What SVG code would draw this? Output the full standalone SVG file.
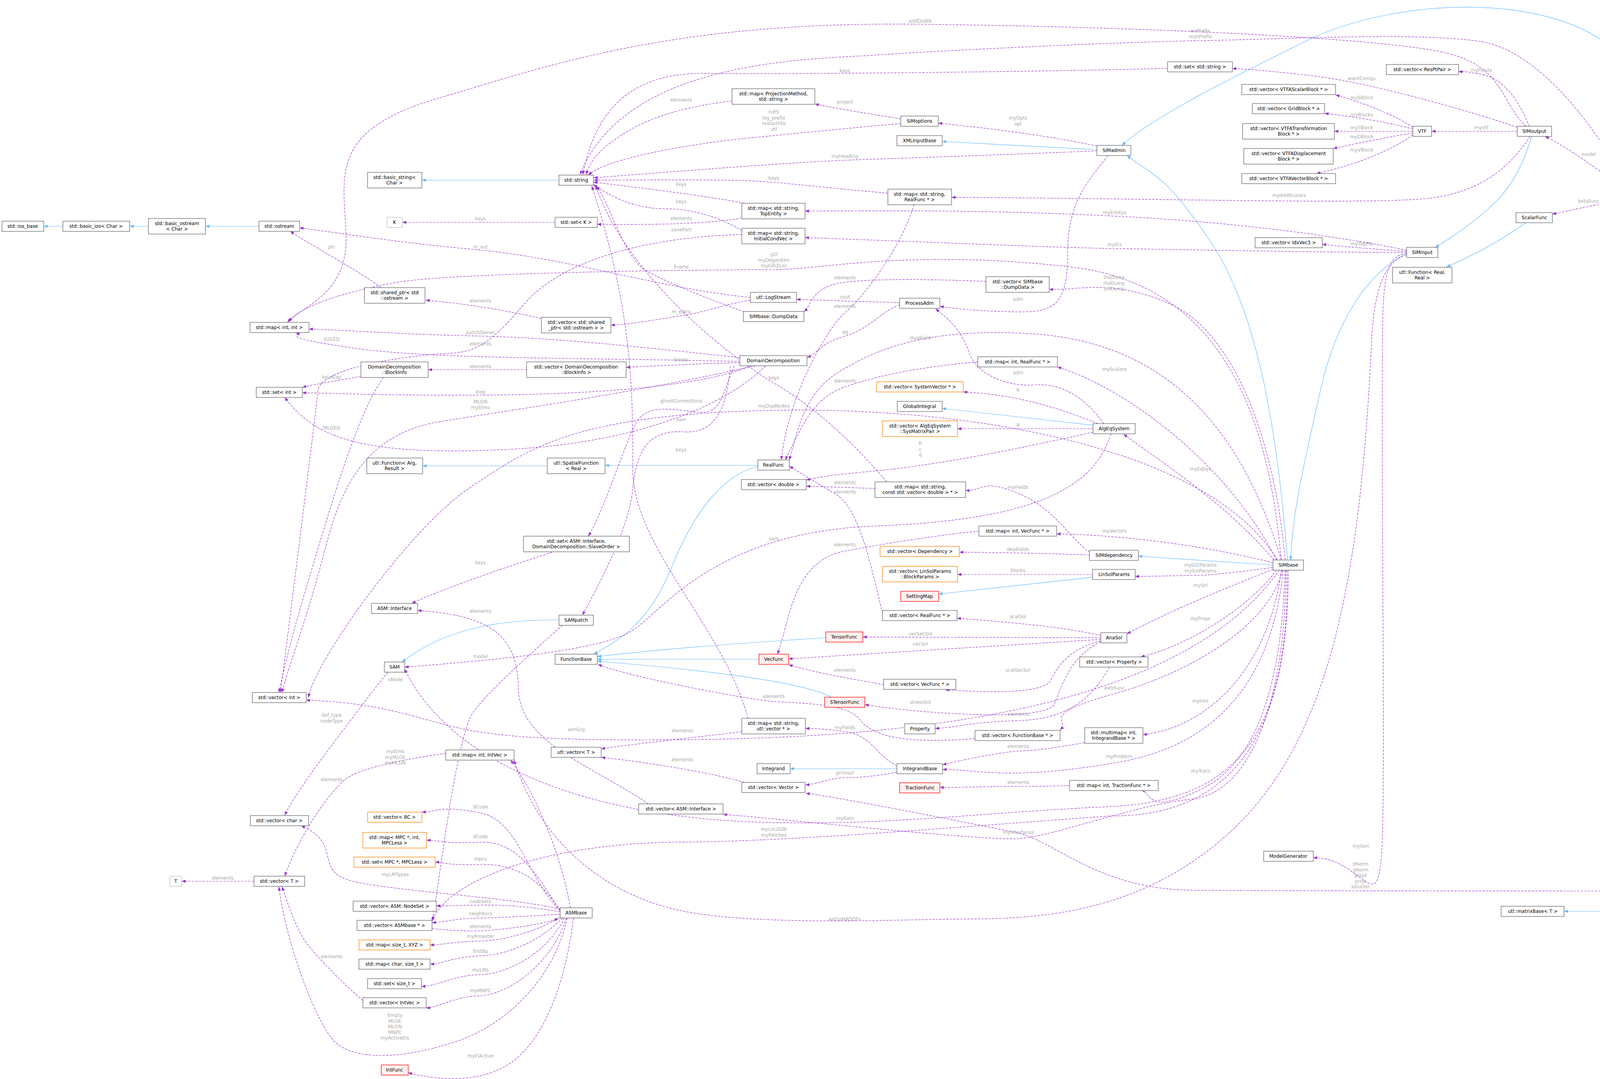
<svg xmlns="http://www.w3.org/2000/svg" width="4472" height="2761" viewBox="0 0 4472 2761">
<defs>
<marker id="ap" markerUnits="userSpaceOnUse" markerWidth="11" markerHeight="8" refX="10" refY="4" orient="auto"><path d="M0,0 L10,4 L0,8 z" fill="#9a32cd"/></marker>
<marker id="ab" markerUnits="userSpaceOnUse" markerWidth="11" markerHeight="8" refX="10" refY="4" orient="auto"><path d="M0,0 L10,4 L0,8 z" fill="#63b8ff"/></marker>
</defs>
<style>
.node rect{fill:#fff;stroke:#666;stroke-width:1.3}
.node text{font-family:"DejaVu Sans",sans-serif;font-size:12px;fill:#000;text-anchor:middle}
.node.red rect{fill:#fff0f0;stroke:#ff0000}
.node.org rect{stroke:#ff7f00}
.node.lt rect{stroke:#bfbfbf}
.node.main rect{fill:#999;stroke:#666}
.c path{fill:none;stroke:#9a32cd;stroke-width:1.2;stroke-dasharray:6,3;marker-end:url(#ap)}
.c path.inh{stroke:#63b8ff;stroke-dasharray:none;marker-end:url(#ab)}
.c text{font-family:"DejaVu Sans",sans-serif;font-size:12px;fill:#a8a8a8;text-anchor:middle}
</style>
<rect width="4472" height="2761" fill="#fff"/>
<g id="connectors" class="c">
<path class="inh" d="M161,579 L112,579"/>
<path class="inh" d="M380,579 L332,579"/>
<path class="inh" d="M663,579 L526,579"/>
<path class="inh" d="M1431,461 L1080,461"/>
<path class="inh" d="M2808,383 L2412,362"/>
<path class="inh" d="M3296,1433 C3270,1100 3220,800 3100,620 S2950,450 2885,398"/>
<path class="inh" d="M3601,648 C3500,700 3420,820 3380,1000 S3310,1300 3304,1433"/>
<path class="inh" d="M3921,349 C3900,420 3870,480 3817,528 S3720,605 3674,633"/>
<path class="inh" d="M3906,570 C3850,610 3780,650 3703,683"/>
<path class="inh" d="M4417,1303 L4203,514"/>
<path class="inh" d="M4419,1303 C4380,850 4300,250 4110,110 C3950,-10 3600,-10 3360,97 C3150,200 2950,300 2872,372"/>
<path class="inh" d="M3259,1446 L2914,1423"/>
<path class="inh" d="M2798,1088 L2412,1045"/>
<path class="inh" d="M2797,1477 L2403,1520"/>
<path class="inh" d="M1401,1192 L1082,1192"/>
<path class="inh" d="M1940,1191 L1549,1191"/>
<path class="inh" d="M1940,1194 C1860,1210 1780,1300 1720,1450 S1580,1640 1520,1674"/>
<path class="inh" d="M2114,1632 C1900,1645 1700,1660 1529,1680"/>
<path class="inh" d="M1943,1687 L1529,1687"/>
<path class="inh" d="M2127,1784 C2050,1740 1750,1710 1529,1692"/>
<path class="inh" d="M1431,1586 C1300,1586 1150,1600 1029,1694"/>
<path class="inh" d="M2296,1967 L2023,1967"/>
<path class="inh" d="M4116,2332 L4004,2332"/>

<path d="M1921,761 C1700,740 1450,660 1230,640 S900,600 767,583"/><text x="1230" y="636">m_out</text>
<path d="M975,736 C930,700 800,630 743,592"/><text x="849" y="636">ptr</text>
<path d="M1386,815 C1300,795 1200,778 1090,768"/><text x="1230" y="774">elements</text>
<path d="M1921,768 C1850,780 1800,800 1744,808 S1620,830 1564,832"/><text x="1744" y="802">m_extra</text>
<path d="M1421,569 L1030,569"/><text x="1230" y="564">keys</text>
<path d="M1899,558 C1800,575 1650,575 1529,574"/><text x="1744" y="563">elements</text>
<path d="M1906,520 C1800,500 1650,482 1519,466"/><text x="1744" y="476">keys</text>
<path d="M1899,590 C1850,560 1780,534 1700,534 S1560,500 1519,472"/><text x="1744" y="520">keys</text>
<path d="M1874,258 C1780,270 1680,290 1600,340 S1510,420 1500,447"/><text x="1744" y="260">elements</text>
<path d="M2306,316 C2150,330 2000,345 1900,355 S1560,400 1506,448"/><text x="1981" y="291">hdf5<tspan x="1981" dy="14.5">log_prefix</tspan><tspan x="1981" dy="14.5">restartFile</tspan><tspan x="1981" dy="14.5">vtf</tspan></text>
<path d="M2808,386 C2600,395 2300,405 2163,410 S1650,445 1520,455"/><text x="2163" y="404">myHeading</text>
<path d="M2273,494 C2150,485 2000,465 1900,462 S1600,461 1520,461"/><text x="1981" y="460">keys</text>
<path d="M2988,175 C2600,185 2000,190 1800,188 S1520,300 1492,447"/><text x="2163" y="185">keys</text>
<path d="M4174,488 C4100,350 3950,130 3789,106 S3300,100 3073,104 S2400,130 2240,141 S1600,150 1485,447"/><text x="3073" y="83">errPrefix<tspan x="3073" dy="14.5">mshPrefix</tspan></text>
<path d="M3906,323 C3840,260 3850,170 3700,135 S3000,70 2356,62 S1400,170 1120,252 S880,450 886,600 S780,780 736,824"/><text x="2356" y="58">addDisBlk</text>
<path d="M3280,1433 C3250,1100 3150,730 2740,683 S2100,690 1981,690 S1150,695 1000,725 S760,790 740,824"/><text x="1981" y="655">g2l<tspan x="1981" dy="14.5">myDegenElm</tspan><tspan x="1981" dy="14.5">myGlb2Loc</tspan></text>
<path d="M1895,915 C1700,895 1450,865 1230,860 S900,845 791,842"/><text x="1230" y="855">patchOwner</text>
<path d="M1895,925 C1500,915 1100,920 900,890 S780,860 757,852"/><text x="849" y="872">G2LEQ</text>
<path d="M924,963 C880,972 820,980 774,991"/><text x="849" y="969">localEqs</text>
<path d="M1348,946 L1096,946"/><text x="1230" y="942">elements</text>
<path d="M1895,928 C1800,930 1700,935 1603,940"/><text x="1744" y="925">blocks</text>
<path d="M982,966 C920,1050 860,1250 800,1450 S730,1700 714,1772"/>
<path d="M1920,936 C1800,990 1500,1010 1230,1011 S900,1007 774,1005"/><text x="1230" y="1007">step</text>
<path d="M1960,936 C1900,1000 1700,1130 1300,1150 S800,1110 729,1017"/><text x="849" y="1099">MLGEQ</text>
<path d="M1935,936 C1600,1010 1300,1050 1120,1080 C900,1120 860,1300 820,1450 C780,1600 740,1700 722,1772"/><text x="1230" y="1032">MLGN<tspan x="1230" dy="14.5">myElms</tspan></text>
<path d="M1880,936 C1850,1000 1850,1060 1790,1055 S1660,1030 1630,1080 S1550,1300 1506,1372"/><text x="1744" y="1030">ghostConnections</text>
<path d="M1870,936 C1860,1050 1830,1110 1750,1105 S1630,1140 1620,1250 S1520,1520 1491,1574"/><text x="1744" y="1078">sam</text>
<path d="M1413,1413 C1300,1450 1150,1500 1054,1544"/><text x="1230" y="1444">keys</text>
<path d="M1660,2057 C1500,1950 1330,1900 1327,1760 S1250,1575 1069,1562"/><text x="1230" y="1568">elements</text>
<path d="M2844,1110 C2800,1250 2650,1330 2240,1346 S1700,1560 1620,1613 S1250,1690 1036,1707"/><text x="1981" y="1383">sam</text>
<path d="M1440,1600 C1350,1680 1260,1760 1213,1820 S1120,2300 1106,2358"/><text x="1230" y="1684">model</text>
<path d="M993,1720 C960,1760 930,1800 900,1840 S760,2020 729,2086"/><text x="1012" y="1743">xNode</text><text x="849" y="1834">dof_type<tspan x="849" dy="14.5">nodeType</tspan></text>
<path d="M1434,2326 C1300,2295 1000,2280 900,2254 S880,2160 771,2113"/><text x="1012" y="2242">myLMTypes</text>
<path d="M1434,2330 C1350,2250 1330,2100 1229,2080 S1120,2077 1080,2078"/><text x="1230" y="2069">BCode</text>
<path d="M1434,2330 C1380,2250 1330,2150 1229,2155 S1130,2150 1092,2150"/><text x="1230" y="2145">dCode</text>
<path d="M1434,2331 C1390,2260 1330,2210 1229,2212 S1140,2206 1114,2206"/><text x="1230" y="2202">mpcs</text>
<path d="M1434,2333 C1350,2320 1300,2315 1229,2316 S1150,2318 1117,2318"/><text x="1230" y="2311">nodeSets</text>
<path d="M1434,2339 C1350,2345 1300,2347 1229,2349 S1150,2358 1106,2361"/><text x="1230" y="2342">neighbors</text>
<path d="M1106,2376 C1150,2381 1200,2383 1229,2382 S1380,2370 1430,2350"/><text x="1230" y="2375">elements</text>
<path d="M1436,2346 C1380,2380 1300,2406 1229,2408 S1130,2418 1101,2418"/><text x="1230" y="2400">myRmaster</text>
<path d="M1440,2349 C1380,2410 1300,2443 1229,2446 S1130,2467 1101,2467"/><text x="1230" y="2438">firstBp</text>
<path d="M1445,2349 C1400,2440 1300,2492 1229,2494 S1120,2524 1079,2524"/><text x="1230" y="2486">myLMs</text>
<path d="M1450,2349 C1410,2470 1300,2545 1229,2548 S1120,2579 1091,2579"/><text x="1230" y="2539">myMNPC</text>
<path d="M929,2560 C870,2510 820,2456 790,2420 S740,2320 722,2269"/><text x="849" y="2452">elements</text>
<path d="M1452,2349 C1420,2500 1300,2620 1171,2664 S900,2720 850,2658 S730,2400 714,2269"/><text x="1011" y="2602">Empty<tspan x="1011" dy="14.5">MLGE</tspan><tspan x="1011" dy="14.5">MLGN</tspan><tspan x="1011" dy="14.5">MNPC</tspan><tspan x="1011" dy="14.5">myActiveEls</tspan></text>
<path d="M1468,2349 C1450,2500 1400,2650 1314,2715 S1100,2760 1045,2745"/><text x="1230" y="2706">myElActive</text>
<path d="M650,2255 L465,2255"/><text x="570" y="2251">elements</text>
<path d="M1141,1928 C1050,1940 950,1960 900,1984 S760,2150 729,2242"/><text x="849" y="1999">elements</text>
<path d="M1460,2323 C1430,2150 1350,2000 1307,1945"/><text x="1012" y="1927">myElms<tspan x="1012" dy="14.5">myMLGE</tspan><tspan x="1012" dy="14.5">myMLGN</tspan></text>
<path d="M3601,652 C3540,670 3515,750 3510,900 C3480,1500 3400,1900 3147,2131 S2600,2350 2434,2352 S1900,2370 1720,2325 S1380,2150 1316,1945"/><text x="2163" y="2356">extraMADOFs</text>
<path d="M3275,1459 C3000,1850 2200,1890 1720,1893 S1200,1870 1050,1830 S800,1795 784,1790"/><text x="1476" y="1871">elmGrp</text>
<path d="M1899,1872 C1800,1885 1650,1900 1539,1916"/><text x="1747" y="1874">elements</text>
<path d="M1906,2002 C1850,1985 1700,1955 1539,1938"/><text x="1747" y="1948">elements</text>
<path d="M2296,1960 C2240,1930 2230,1880 2163,1872 S2090,1864 2062,1864"/><text x="2163" y="1866">myFields</text>
<path d="M2296,1976 C2250,1985 2200,1990 2163,1990 S2090,2008 2062,2008"/><text x="2163" y="1982">primsol</text>
<path d="M2496,1890 C2300,1905 2230,1880 2200,1840 S2050,1800 1981,1795 S1600,1730 1531,1700"/><text x="1981" y="1786">elements</text>
<path d="M2840,1707 C2800,1780 2740,1840 2607,1844 S2450,1862 2394,1864"/><text x="2607" y="1832">elements</text>
<path d="M2777,1900 C2700,1915 2650,1920 2607,1922 S2460,1945 2413,1957"/><text x="2607" y="1914">elements</text>
<path d="M2738,2010 C2680,2012 2640,2012 2607,2012 S2450,2015 2406,2015"/><text x="2607" y="2006">elements</text>
<path d="M3280,1459 C3250,1700 3100,1860 2926,1880"/><text x="3073" y="1798">myInts</text>
<path d="M3285,1459 C3260,1700 3150,1900 2865,1950 S2500,1968 2413,1969"/><text x="2865" y="1940">myProblem</text>
<path d="M3290,1459 C3280,1750 3220,1950 3074,2020 S2950,2024 2920,2022"/><text x="3074" y="1977">myTracs</text>
<path d="M3292,1459 C3290,1800 3200,2030 3050,2045 S2700,2140 2607,2146 S1950,2090 1851,2084"/><text x="2607" y="2134">myInterfaces</text>
<path d="M3295,1459 C3300,1900 3150,2050 2840,2064 C2500,2080 2300,2110 2000,2105 C1500,2100 1150,1950 1036,1712"/><text x="2163" y="2098">mySam</text>
<path d="M3298,1459 C3300,1950 3100,2090 2840,2088 C2400,2120 2000,2155 1720,2155 C1400,2160 1150,2250 1106,2355"/><text x="1981" y="2126">myLoc2Glb<tspan x="1981" dy="14.5">myPatches</tspan></text>
<path d="M4415,1329 C4400,1800 4380,2280 4200,2280 S3300,2280 3054,2278 S2700,2150 2600,2130 S2150,2040 2063,2030"/><text x="3483" y="2215">dNorm<tspan x="3483" dy="14.5">gNorm</tspan><tspan x="3483" dy="14.5">projd</tspan><tspan x="3483" dy="14.5">projs</tspan><tspan x="3483" dy="14.5">solution</tspan></text>
<path d="M4420,1329 C4410,1800 4380,2250 4340,2320 S4270,2348 4241,2345"/><text x="4314" y="2310">eNorm<tspan x="4314" dy="14.5">fNorm</tspan></text>
<path d="M3601,648 C3560,655 3545,680 3540,800 C3535,1200 3545,1800 3540,2100 S3500,2192 3362,2195"/><text x="3484" y="2169">myGen</text>
<path d="M3601,643 C3520,638 3450,632 3385,625"/><text x="3486" y="628">myTopPts</text>
<path d="M3601,646 C3300,645 3000,638 2853,636 S2300,616 2061,608"/><text x="2853" y="630">myICs</text>
<path d="M3601,640 C3450,610 3200,570 2853,553 S2300,540 2061,540"/><text x="2853" y="548">myEntitys</text>
<path d="M3917,349 C3870,420 3800,490 3660,507 S3000,508 2436,505"/><text x="3300" y="504">myAddScalars</text>
<path d="M3884,336 L3665,336"/><text x="3792" y="331">myVtf</text>
<path d="M3915,323 C3890,260 3850,200 3792,190 S3750,184 3734,183"/><text x="3792" y="184">myPoints</text>
<path d="M3885,326 C3750,280 3500,210 3360,194 S3200,178 3155,175"/><text x="3486" y="205">wantComps</text>
<path d="M3617,326 C3580,300 3500,265 3419,243"/><text x="3486" y="254">mySBlock</text>
<path d="M3617,330 C3560,315 3480,300 3391,290"/><text x="3486" y="298">myBlocks</text>
<path d="M3617,336 L3416,336"/><text x="3486" y="331">myTBlock</text>
<path d="M3617,340 C3560,350 3480,365 3413,380"/><text x="3486" y="354">myDBlock</text>
<path d="M3617,345 C3570,380 3480,420 3370,444"/><text x="3486" y="388">myVBlock</text>
<path d="M4160,488 C4100,440 4020,380 3955,349"/><text x="4067" y="399">model</text>
<path d="M4137,514 C4080,525 4020,538 3974,548"/><text x="4067" y="519">betaFunc</text>
<path d="M2808,374 C2700,350 2550,330 2402,315"/><text x="2606" y="306">myOpts<tspan x="2606" dy="14.5">opt</tspan></text>
<path d="M2836,399 C2780,470 2733,520 2733,650 S2700,800 2600,798 S2450,790 2406,784"/><text x="2606" y="770">adm</text>
<path d="M2826,1084 C2780,1020 2720,980 2650,985 S2500,960 2480,900 S2420,810 2395,790"/><text x="2606" y="958">adm</text>
<path d="M2811,1084 C2700,1040 2600,1010 2466,1003"/><text x="2606" y="1002">b</text>
<path d="M2798,1097 L2451,1097"/><text x="2606" y="1092">A</text>
<path d="M2798,1106 C2600,1150 2400,1190 2240,1205 S2100,1222 2064,1228"/><text x="2356" y="1139">R<tspan x="2356" dy="14.5">c</tspan><tspan x="2356" dy="14.5">d</tspan></text>
<path d="M2240,1250 L2064,1244"/><text x="2163" y="1263">elements</text>
<path d="M2270,1233 C2200,1150 2100,1050 1981,980 S1600,700 1525,475"/><text x="1981" y="971">keys</text>
<path d="M1915,1838 C1850,1600 1620,1400 1620,1200 S1620,800 1515,476"/><text x="1744" y="1155">keys</text>
<path d="M2503,926 C2350,940 2250,960 2163,990 S2050,1100 2010,1177"/><text x="2163" y="979">elements</text>
<path d="M2340,524 C2300,650 2200,770 2163,800 S2020,1000 2000,1177"/><text x="2163" y="788">elements</text>
<path d="M2259,1568 C2230,1450 2200,1300 2140,1265 S2050,1210 2021,1193"/><text x="2163" y="1239">elements</text>
<path d="M2506,1359 C2400,1370 2300,1385 2163,1410 S2020,1600 1990,1674"/><text x="2163" y="1398">elements</text>
<path d="M2262,1752 C2200,1740 2100,1725 2019,1701"/><text x="2163" y="1719">elements</text>
<path d="M2818,1626 C2700,1600 2550,1590 2450,1582"/><text x="2606" y="1582">scalSol</text>
<path d="M2818,1632 L2209,1630"/><text x="2356" y="1626">vecSecSol</text>
<path d="M2818,1636 C2600,1650 2300,1668 2019,1686"/><text x="2356" y="1652">vecSol</text>
<path d="M2818,1640 C2740,1660 2710,1700 2690,1740 S2500,1770 2420,1765"/><text x="2606" y="1719">scalSecSol</text>
<path d="M2818,1642 C2740,1680 2720,1750 2700,1800 S2350,1825 2214,1803"/><text x="2356" y="1801">stressSol</text>
<path d="M3259,1457 C3150,1500 3000,1560 2885,1622"/><text x="3073" y="1502">mySol</text>
<path d="M3268,1459 C3200,1550 3050,1650 2920,1681"/><text x="3073" y="1587">myProps</text>
<path d="M3283,1459 C3250,1600 3050,1720 2853,1775 S2740,1840 2714,1868"/><text x="2853" y="1765">extrFunc</text>
<path d="M3259,1452 C3200,1460 3100,1472 3073,1472 S2950,1475 2906,1475"/><text x="3073" y="1450">myGl2Params<tspan x="3073" dy="14.5">mySolParams</tspan></text>
<path d="M2797,1470 L2451,1470"/><text x="2606" y="1464">blocks</text>
<path d="M2789,1420 C2700,1417 2600,1414 2456,1413"/><text x="2606" y="1410">depFields</text>
<path d="M2790,1413 C2740,1380 2700,1300 2606,1262 S2520,1256 2472,1255"/><text x="2606" y="1251">myFields</text>
<path d="M3259,1440 C3100,1400 2900,1370 2705,1366"/><text x="2853" y="1363">myVectors</text>
<path d="M3268,1433 C3150,1200 2900,1000 2707,939"/><text x="2853" y="949">myScalars</text>
<path d="M3261,1433 C3150,1300 3000,1200 2876,1111"/><text x="3073" y="1204">myEqSys</text>
<path d="M3290,1433 C3260,1100 3150,850 3000,780 S2750,745 2686,740"/><text x="2852" y="714">lhsDump<tspan x="2852" dy="14.5">rhsDump</tspan><tspan x="2852" dy="14.5">solDump</tspan></text>
<path d="M3280,1433 C3150,1000 2900,870 2640,854 S2250,890 2150,950 S2040,1120 2020,1177"/><text x="2356" y="869">dualField</text>
<path d="M2303,774 C2200,772 2100,768 2039,766"/><text x="2163" y="764">cout</text>
<path d="M2303,780 C2250,800 2230,840 2163,860 S2100,900 2066,915"/><text x="2163" y="855">dd</text>
<path d="M1906,798 C1800,760 1700,720 1650,690 S1560,520 1527,476"/><text x="1744" y="687">fname</text>
<path d="M2524,720 C2400,715 2250,712 2163,722 S2080,780 2058,797"/><text x="2163" y="715">elements</text>
<path d="M2306,304 C2250,295 2150,280 2086,266"/><text x="2163" y="265">project</text>
<path d="M1899,600 C1700,605 1450,650 1340,780 S1200,900 1120,906 S820,940 814,1000 S740,1600 718,1772"/><text x="1744" y="592">savePart</text><text x="1230" y="884">elements</text>
<path d="M3270,1433 C3100,1150 2500,1040 1981,1050 S1350,1150 1200,1250 S800,1700 790,1785"/><text x="1981" y="1043">myDupNodes</text>
</g>

<g id="n_ios_base" class="node"><rect x="5" y="566" width="107" height="26"/><text x="58" y="583">std::ios_base</text></g>
<g id="n_basic_ios" class="node"><rect x="161" y="566" width="171" height="26"/><text x="246" y="583">std::basic_ios&lt; Char &gt;</text></g>
<g id="n_basic_ostream" class="node"><rect x="380" y="559" width="146" height="40"/><text x="453" y="576">std::basic_ostream</text><text x="453" y="590">&lt; Char &gt;</text></g>
<g id="n_ostream" class="node"><rect x="663" y="566" width="104" height="26"/><text x="715" y="583">std::ostream</text></g>
<g id="n_basic_string" class="node"><rect x="941" y="441" width="139" height="40"/><text x="1010" y="458">std::basic_string&lt;</text><text x="1010" y="472">Char &gt;</text></g>
<g id="n_K" class="node lt"><rect x="991" y="556" width="39" height="26"/><text x="1010" y="573">K</text></g>
<g id="n_shared_ptr" class="node"><rect x="933" y="736" width="155" height="40"/><text x="1010" y="753">std::shared_ptr&lt; std</text><text x="1010" y="767">::ostream &gt;</text></g>
<g id="n_map_int_int" class="node"><rect x="640" y="825" width="151" height="26"/><text x="715" y="842">std::map&lt; int, int &gt;</text></g>
<g id="n_string" class="node"><rect x="1431" y="448" width="88" height="26"/><text x="1475" y="465">std::string</text></g>
<g id="n_set_K" class="node"><rect x="1421" y="556" width="108" height="26"/><text x="1475" y="573">std::set&lt; K &gt;</text></g>
<g id="n_vec_shared" class="node"><rect x="1386" y="812" width="178" height="40"/><text x="1475" y="829">std::vector&lt; std::shared</text><text x="1475" y="843">_ptr&lt; std::ostream &gt; &gt;</text></g>
<g id="n_map_proj" class="node"><rect x="1874" y="227" width="212" height="40"/><text x="1980" y="244">std::map&lt; ProjectionMethod,</text><text x="1980" y="258">std::string &gt;</text></g>
<g id="n_map_topent" class="node"><rect x="1899" y="520" width="162" height="40"/><text x="1980" y="537">std::map&lt; std::string,</text><text x="1980" y="551">TopEntity &gt;</text></g>
<g id="n_map_icv" class="node"><rect x="1899" y="584" width="162" height="40"/><text x="1980" y="601">std::map&lt; std::string,</text><text x="1980" y="615">InitialCondVec &gt;</text></g>
<g id="n_logstream" class="node"><rect x="1921" y="748" width="118" height="26"/><text x="1980" y="765">utl::LogStream</text></g>
<g id="n_dumpdata" class="node"><rect x="1903" y="797" width="155" height="26"/><text x="1980" y="814">SIMbase::DumpData</text></g>
<g id="n_DD" class="node"><rect x="1894" y="910" width="172" height="26"/><text x="1980" y="927">DomainDecomposition</text></g>
<g id="n_blockinfo" class="node"><rect x="924" y="926" width="172" height="40"/><text x="1010" y="943">DomainDecomposition</text><text x="1010" y="957">::BlockInfo</text></g>
<g id="n_vec_blockinfo" class="node"><rect x="1348" y="926" width="255" height="40"/><text x="1475" y="943">std::vector&lt; DomainDecomposition</text><text x="1475" y="957">::BlockInfo &gt;</text></g>
<g id="n_set_int" class="node"><rect x="656" y="991" width="118" height="26"/><text x="715" y="1008">std::set&lt; int &gt;</text></g>
<g id="n_fn_arg" class="node"><rect x="939" y="1172" width="143" height="40"/><text x="1010" y="1189">utl::Function&lt; Arg,</text><text x="1010" y="1203">Result &gt;</text></g>
<g id="n_spatial" class="node"><rect x="1401" y="1172" width="148" height="40"/><text x="1475" y="1189">utl::SpatialFunction</text><text x="1475" y="1203">&lt; Real &gt;</text></g>
<g id="n_realfunc" class="node"><rect x="1940" y="1177" width="81" height="26"/><text x="1980" y="1194">RealFunc</text></g>
<g id="n_vec_double" class="node"><rect x="1898" y="1227" width="166" height="26"/><text x="1980" y="1244">std::vector&lt; double &gt;</text></g>
<g id="n_set_iface" class="node"><rect x="1340" y="1372" width="271" height="40"/><text x="1475" y="1389">std::set&lt; ASM::Interface,</text><text x="1475" y="1403">DomainDecomposition::SlaveOrder &gt;</text></g>
<g id="n_asm_iface" class="node"><rect x="951" y="1544" width="118" height="26"/><text x="1010" y="1561">ASM::Interface</text></g>
<g id="n_sampatch" class="node"><rect x="1431" y="1574" width="88" height="26"/><text x="1475" y="1591">SAMpatch</text></g>
<g id="n_SAM" class="node"><rect x="984" y="1694" width="52" height="26"/><text x="1010" y="1711">SAM</text></g>
<g id="n_funcbase" class="node"><rect x="1421" y="1674" width="108" height="26"/><text x="1475" y="1691">FunctionBase</text></g>
<g id="n_vec_int" class="node"><rect x="646" y="1772" width="138" height="26"/><text x="715" y="1789">std::vector&lt; int &gt;</text></g>
<g id="n_tensorfunc" class="node red"><rect x="2114" y="1617" width="95" height="26"/><text x="2161" y="1634">TensorFunc</text></g>
<g id="n_vecfunc" class="node red"><rect x="1943" y="1674" width="76" height="26"/><text x="1981" y="1691">VecFunc</text></g>
<g id="n_stensorfunc" class="node red"><rect x="2111" y="1784" width="103" height="26"/><text x="2162" y="1801">STensorFunc</text></g>
<g id="n_set_string" class="node"><rect x="2989" y="158" width="166" height="26"/><text x="3072" y="175">std::set&lt; std::string &gt;</text></g>
<g id="n_vec_scalarblk" class="node"><rect x="3179" y="216" width="240" height="26"/><text x="3299" y="233">std::vector&lt; VTFAScalarBlock * &gt;</text></g>
<g id="n_vec_grid" class="node"><rect x="3206" y="265" width="185" height="26"/><text x="3299" y="282">std::vector&lt; GridBlock * &gt;</text></g>
<g id="n_vec_transf" class="node"><rect x="3181" y="316" width="235" height="40"/><text x="3299" y="333">std::vector&lt; VTFATransformation</text><text x="3299" y="347">Block * &gt;</text></g>
<g id="n_vec_disp" class="node"><rect x="3184" y="380" width="229" height="40"/><text x="3299" y="397">std::vector&lt; VTFADisplacement</text><text x="3299" y="411">Block * &gt;</text></g>
<g id="n_vec_vecblk" class="node"><rect x="3179" y="444" width="240" height="26"/><text x="3299" y="461">std::vector&lt; VTFAVectorBlock * &gt;</text></g>
<g id="n_simoptions" class="node"><rect x="2306" y="297" width="96" height="26"/><text x="2354" y="314">SIMoptions</text></g>
<g id="n_xmlinput" class="node"><rect x="2296" y="347" width="116" height="26"/><text x="2354" y="364">XMLInputBase</text></g>
<g id="n_simadmin" class="node"><rect x="2808" y="372" width="87" height="26"/><text x="2852" y="389">SIMadmin</text></g>
<g id="n_map_str_realfunc" class="node"><rect x="2273" y="484" width="163" height="40"/><text x="2354" y="501">std::map&lt; std::string,</text><text x="2354" y="515">RealFunc * &gt;</text></g>
<g id="n_vec_idxvec3" class="node"><rect x="3213" y="608" width="172" height="26"/><text x="3299" y="625">std::vector&lt; IdxVec3 &gt;</text></g>
<g id="n_vec_dumpdata" class="node"><rect x="2524" y="708" width="162" height="40"/><text x="2605" y="725">std::vector&lt; SIMbase</text><text x="2605" y="739">::DumpData &gt;</text></g>
<g id="n_processadm" class="node"><rect x="2303" y="763" width="103" height="26"/><text x="2354" y="780">ProcessAdm</text></g>
<g id="n_vec_respt" class="node"><rect x="3549" y="165" width="185" height="26"/><text x="3641" y="182">std::vector&lt; ResPtPair &gt;</text></g>
<g id="n_VTF" class="node"><rect x="3617" y="323" width="48" height="26"/><text x="3641" y="340">VTF</text></g>
<g id="n_simoutput" class="node"><rect x="3884" y="323" width="88" height="26"/><text x="3928" y="340">SIMoutput</text></g>
<g id="n_adaptivesetup" class="node"><rect x="4137" y="488" width="119" height="26"/><text x="4196" y="505">AdaptiveSetup</text></g>
<g id="n_scalarfunc" class="node"><rect x="3881" y="544" width="93" height="26"/><text x="3928" y="561">ScalarFunc</text></g>
<g id="n_siminput" class="node"><rect x="3601" y="633" width="80" height="26"/><text x="3641" y="650">SIMinput</text></g>
<g id="n_fn_real" class="node"><rect x="3565" y="684" width="152" height="40"/><text x="3641" y="701">utl::Function&lt; Real,</text><text x="3641" y="715">Real &gt;</text></g>
<g id="n_map_int_realfunc" class="node"><rect x="2503" y="913" width="204" height="26"/><text x="2605" y="930">std::map&lt; int, RealFunc * &gt;</text></g>
<g id="n_vec_sysvec" class="node org"><rect x="2244" y="977" width="222" height="26"/><text x="2355" y="994">std::vector&lt; SystemVector * &gt;</text></g>
<g id="n_globalintegral" class="node"><rect x="2297" y="1027" width="115" height="26"/><text x="2354" y="1044">GlobalIntegral</text></g>
<g id="n_vec_sysmat" class="node org"><rect x="2259" y="1077" width="192" height="40"/><text x="2355" y="1094">std::vector&lt; AlgEqSystem</text><text x="2355" y="1108">::SysMatrixPair &gt;</text></g>
<g id="n_algeqsystem" class="node"><rect x="2798" y="1084" width="108" height="26"/><text x="2852" y="1101">AlgEqSystem</text></g>
<g id="n_map_str_cvd" class="node"><rect x="2240" y="1233" width="232" height="40"/><text x="2356" y="1250">std::map&lt; std::string,</text><text x="2356" y="1264">const std::vector&lt; double &gt; * &gt;</text></g>
<g id="n_map_int_vecfunc" class="node"><rect x="2506" y="1346" width="199" height="26"/><text x="2605" y="1363">std::map&lt; int, VecFunc * &gt;</text></g>
<g id="n_vec_dependency" class="node org"><rect x="2253" y="1398" width="203" height="26"/><text x="2355" y="1415">std::vector&lt; Dependency &gt;</text></g>
<g id="n_simdependency" class="node"><rect x="2789" y="1408" width="125" height="26"/><text x="2852" y="1425">SIMdependency</text></g>
<g id="n_simbase" class="node"><rect x="3259" y="1433" width="78" height="26"/><text x="3298" y="1450">SIMbase</text></g>
<g id="n_vec_blockparams" class="node org"><rect x="2259" y="1449" width="192" height="40"/><text x="2355" y="1466">std::vector&lt; LinSolParams</text><text x="2355" y="1480">::BlockParams &gt;</text></g>
<g id="n_linsolparams" class="node"><rect x="2797" y="1457" width="109" height="26"/><text x="2852" y="1474">LinSolParams</text></g>
<g id="n_settingmap" class="node red"><rect x="2306" y="1513" width="97" height="26"/><text x="2354" y="1530">SettingMap</text></g>
<g id="n_vec_realfunc" class="node"><rect x="2259" y="1562" width="191" height="26"/><text x="2355" y="1579">std::vector&lt; RealFunc * &gt;</text></g>
<g id="n_anasol" class="node"><rect x="2818" y="1619" width="67" height="26"/><text x="2852" y="1636">AnaSol</text></g>
<g id="n_vec_property" class="node"><rect x="2764" y="1681" width="175" height="26"/><text x="2852" y="1698">std::vector&lt; Property &gt;</text></g>
<g id="n_vec_vecfunc" class="node"><rect x="2262" y="1738" width="185" height="26"/><text x="2355" y="1755">std::vector&lt; VecFunc * &gt;</text></g>
<g id="n_adaptivesim" class="node main"><rect x="4369" y="1303" width="100" height="26"/><text x="4419" y="1320">AdaptiveSIM</text></g>
<g id="n_map_int_intvec" class="node"><rect x="1141" y="1919" width="175" height="26"/><text x="1228" y="1936">std::map&lt; int, IntVec &gt;</text></g>
<g id="n_utl_vector_T" class="node"><rect x="1411" y="1912" width="128" height="26"/><text x="1475" y="1929">utl::vector&lt; T &gt;</text></g>
<g id="n_vec_char" class="node"><rect x="641" y="2087" width="149" height="26"/><text x="715" y="2104">std::vector&lt; char &gt;</text></g>
<g id="n_vec_BC" class="node org"><rect x="941" y="2078" width="139" height="26"/><text x="1010" y="2095">std::vector&lt; BC &gt;</text></g>
<g id="n_map_mpc" class="node org"><rect x="929" y="2130" width="163" height="40"/><text x="1010" y="2147">std::map&lt; MPC *, int,</text><text x="1010" y="2161">MPCLess &gt;</text></g>
<g id="n_set_mpc" class="node org"><rect x="906" y="2193" width="208" height="26"/><text x="1010" y="2210">std::set&lt; MPC *, MPCLess &gt;</text></g>
<g id="n_vec_T" class="node"><rect x="650" y="2242" width="130" height="26"/><text x="715" y="2259">std::vector&lt; T &gt;</text></g>
<g id="n_vec_nodeset" class="node"><rect x="904" y="2306" width="213" height="26"/><text x="1010" y="2323">std::vector&lt; ASM::NodeSet &gt;</text></g>
<g id="n_asmbase" class="node"><rect x="1434" y="2323" width="82" height="26"/><text x="1475" y="2340">ASMbase</text></g>
<g id="n_vec_asmbase" class="node"><rect x="914" y="2355" width="192" height="26"/><text x="1010" y="2372">std::vector&lt; ASMbase * &gt;</text></g>
<g id="n_map_size_xyz" class="node org"><rect x="919" y="2405" width="182" height="26"/><text x="1010" y="2422">std::map&lt; size_t, XYZ &gt;</text></g>
<g id="n_map_char_size" class="node"><rect x="919" y="2454" width="182" height="26"/><text x="1010" y="2471">std::map&lt; char, size_t &gt;</text></g>
<g id="n_set_size" class="node"><rect x="941" y="2504" width="138" height="26"/><text x="1010" y="2521">std::set&lt; size_t &gt;</text></g>
<g id="n_vec_intvec" class="node"><rect x="929" y="2553" width="162" height="26"/><text x="1010" y="2570">std::vector&lt; IntVec &gt;</text></g>
<g id="n_intfunc" class="node red"><rect x="976" y="2725" width="69" height="26"/><text x="1010" y="2742">IntFunc</text></g>
<g id="n_vec_asm_iface" class="node"><rect x="1635" y="2057" width="216" height="26"/><text x="1743" y="2074">std::vector&lt; ASM::Interface &gt;</text></g>
<g id="n_T" class="node lt"><rect x="435" y="2242" width="30" height="26"/><text x="450" y="2259">T</text></g>
<g id="n_map_str_utlvec" class="node"><rect x="1899" y="1838" width="163" height="40"/><text x="1980" y="1855">std::map&lt; std::string,</text><text x="1980" y="1869">utl::vector * &gt;</text></g>
<g id="n_property" class="node"><rect x="2316" y="1852" width="78" height="26"/><text x="2355" y="1869">Property</text></g>
<g id="n_vec_funcbase" class="node"><rect x="2496" y="1869" width="218" height="26"/><text x="2605" y="1886">std::vector&lt; FunctionBase * &gt;</text></g>
<g id="n_multimap" class="node"><rect x="2777" y="1862" width="149" height="40"/><text x="2851" y="1879">std::multimap&lt; int,</text><text x="2851" y="1893">IntegrandBase * &gt;</text></g>
<g id="n_integrand" class="node"><rect x="1938" y="1954" width="85" height="26"/><text x="1980" y="1971">Integrand</text></g>
<g id="n_integrandbase" class="node"><rect x="2296" y="1954" width="117" height="26"/><text x="2355" y="1971">IntegrandBase</text></g>
<g id="n_vec_vector" class="node"><rect x="1899" y="2002" width="162" height="26"/><text x="1980" y="2019">std::vector&lt; Vector &gt;</text></g>
<g id="n_tractionfunc" class="node red"><rect x="2303" y="2003" width="103" height="26"/><text x="2355" y="2020">TractionFunc</text></g>
<g id="n_map_int_traction" class="node"><rect x="2738" y="1997" width="227" height="26"/><text x="2851" y="2014">std::map&lt; int, TractionFunc * &gt;</text></g>
<g id="n_modelgen" class="node"><rect x="3235" y="2178" width="127" height="26"/><text x="3298" y="2195">ModelGenerator</text></g>
<g id="n_matrixbase" class="node"><rect x="3843" y="2319" width="161" height="26"/><text x="3924" y="2336">utl::matrixBase&lt; T &gt;</text></g>
<g id="n_matrix" class="node"><rect x="4116" y="2319" width="149" height="26"/><text x="4190" y="2336">utl::matrix&lt; Real &gt;</text></g>
</svg>
